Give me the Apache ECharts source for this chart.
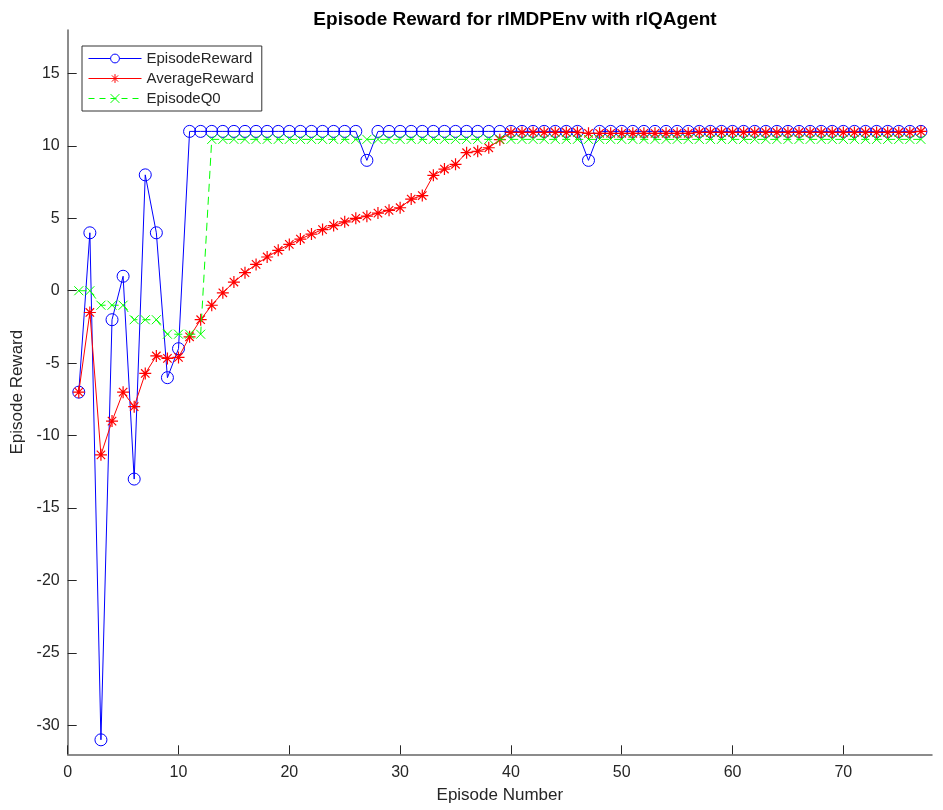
<!DOCTYPE html>
<html>
<head>
<meta charset="utf-8">
<script src="https://cdn.jsdelivr.net/npm/echarts@6/dist/echarts.min.js"></script>
<style>
html,body{margin:0;padding:0;background:#fff;}
#chart{width:943px;height:810px;}
</style>
</head>
<body>
<div id="chart"></div>
<script>
const titleText = 'Episode Reward for rlMDPEnv with rlQAgent';
const xLabel = 'Episode Number';
const yLabel = 'Episode Reward';
const seriesNames = ['EpisodeReward', 'AverageReward', 'EpisodeQ0'];
const xTicks = [0, 10, 20, 30, 40, 50, 60, 70];
const yTicks = [-30, -25, -20, -15, -10, -5, 0, 5, 10, 15];

const episodeReward = [
  -7, 4, -31, -2, 1, -13, 8, 4, -6, -4,
  11, 11, 11, 11, 11, 11, 11, 11, 11, 11, 11, 11, 11, 11, 11, 11,
  9,
  11, 11, 11, 11, 11, 11, 11, 11, 11, 11, 11, 11, 11, 11, 11, 11, 11, 11, 11,
  9,
  11, 11, 11, 11, 11, 11, 11, 11, 11, 11, 11, 11, 11, 11, 11,
  11, 11, 11, 11, 11, 11, 11, 11, 11, 11, 11, 11, 11, 11, 11
];
const averageReward = [
  -7, -1.5, -11.33, -9, -7, -8, -5.71, -4.5, -4.67, -4.6,
  -3.18, -2, -1, -0.14, 0.6, 1.25, 1.82, 2.33, 2.79, 3.2,
  3.57, 3.91, 4.22, 4.5, 4.76, 5, 5.15, 5.36, 5.55, 5.73,
  6.33, 6.57, 7.97, 8.4, 8.73, 9.53, 9.63, 9.87, 10.43, 10.93,
  10.93, 10.93, 10.93, 10.93, 10.93, 10.93,
  10.87, 10.87, 10.87, 10.87, 10.87, 10.87, 10.87, 10.87, 10.87, 10.87,
  10.93, 10.93, 10.93, 10.93, 10.93, 10.93, 10.93, 10.93, 10.93, 10.93,
  10.93, 10.93, 10.93, 10.93, 10.93, 10.93, 10.93, 10.93, 10.93, 10.93,
  11
];
const episodeQ0 = [
  0, 0, -1, -1, -1, -2, -2, -2, -3, -3, -3, -3,
  10.45, 10.45, 10.45, 10.45, 10.45, 10.45, 10.45, 10.45, 10.45, 10.45,
  10.45, 10.45, 10.45, 10.45, 10.45, 10.45, 10.45, 10.45, 10.45, 10.45,
  10.45, 10.45, 10.45, 10.45, 10.45, 10.45, 10.45, 10.45, 10.45, 10.45,
  10.45, 10.45, 10.45, 10.45, 10.45, 10.45, 10.45, 10.45, 10.45, 10.45,
  10.45, 10.45, 10.45, 10.45, 10.45, 10.45, 10.45, 10.45, 10.45, 10.45,
  10.45, 10.45, 10.45, 10.45, 10.45, 10.45, 10.45, 10.45, 10.45, 10.45,
  10.45, 10.45, 10.45, 10.45, 10.45
];

const toPairs = arr => arr.map((v, i) => [i + 1, v]);

const FONT = '"Liberation Sans", Arial, Helvetica, sans-serif';
const AXIS_COLOR = '#666666';
const TEXT_COLOR = '#262626';
const starPath = 'path://M5 0 L5 10 M0 5 L10 5 M1.5 1.5 L8.5 8.5 M1.5 8.5 L8.5 1.5';
const xPath = 'path://M0 0 L10 10 M0 10 L10 0';
const COLORS = ['#0000ff', '#ff0000', '#00ff00'];

const chart = echarts.init(document.getElementById('chart'), null, {renderer: 'canvas'});
chart.setOption({
  backgroundColor: '#ffffff',
  animation: false,
  title: {
    text: titleText,
    left: 510, top: 5, textAlign: 'center',
    textStyle: {fontFamily: FONT, fontSize: 19, fontWeight: 'bold', color: '#000'}
  },
  legend: {
    orient: 'vertical',
    left: 82, top: 46,
    padding: [5, 8, 5, 6],
    itemGap: 5,
    itemWidth: 53, itemHeight: 11,
    borderColor: '#333', borderWidth: 1,
    backgroundColor: '#fff',
    textStyle: {fontFamily: FONT, fontSize: 15, color: TEXT_COLOR},
    data: [
      {name: seriesNames[0], lineStyle: {width: 1, color: COLORS[0]},
       itemStyle: {color: '#ffffff', borderColor: COLORS[0], borderWidth: 1}},
      {name: seriesNames[1], lineStyle: {width: 1, color: COLORS[1]},
       itemStyle: {color: 'rgba(0,0,0,0)', borderColor: COLORS[1], borderWidth: 1}},
      {name: seriesNames[2], lineStyle: {width: 1, color: COLORS[2], type: [6, 5]},
       itemStyle: {color: 'rgba(0,0,0,0)', borderColor: COLORS[2], borderWidth: 1}}
    ]
  },
  grid: {left: 67.7, right: 11, top: 30, bottom: 55.7, containLabel: false},
  xAxis: {
    type: 'value', min: 0, max: 78,
    name: xLabel, nameLocation: 'middle', nameGap: 33,
    nameTextStyle: {fontFamily: FONT, fontSize: 17, color: TEXT_COLOR},
    axisLine: {show: true, onZero: false, lineStyle: {color: AXIS_COLOR, width: 1.5}},
    axisTick: {show: true, inside: true, length: 9, customValues: xTicks, lineStyle: {color: TEXT_COLOR, width: 1}},
    axisLabel: {customValues: xTicks, margin: 10, fontFamily: FONT, fontSize: 16, color: TEXT_COLOR},
    splitLine: {show: false}
  },
  yAxis: {
    type: 'value', min: -32, max: 18,
    name: yLabel, nameLocation: 'middle', nameGap: 40, nameRotate: 90,
    nameTextStyle: {fontFamily: FONT, fontSize: 17, color: TEXT_COLOR},
    axisLine: {show: true, onZero: false, lineStyle: {color: AXIS_COLOR, width: 1.5}},
    axisTick: {show: true, inside: true, length: 9, customValues: yTicks, lineStyle: {color: TEXT_COLOR, width: 1}},
    axisLabel: {customValues: yTicks, margin: 8, fontFamily: FONT, fontSize: 16, color: TEXT_COLOR},
    splitLine: {show: false}
  },
  series: [
    {
      name: seriesNames[0], type: 'line', data: toPairs(episodeReward),
      symbol: 'circle', symbolSize: 12, showAllSymbol: true,
      lineStyle: {color: COLORS[0], width: 1},
      itemStyle: {color: 'rgba(0,0,0,0)', borderColor: COLORS[0], borderWidth: 1},
      z: 2
    },
    {
      name: seriesNames[1], type: 'line', data: toPairs(averageReward),
      symbol: starPath, symbolSize: 12, showAllSymbol: true,
      lineStyle: {color: COLORS[1], width: 1},
      itemStyle: {color: 'rgba(0,0,0,0)', borderColor: COLORS[1], borderWidth: 1.2},
      z: 3
    },
    {
      name: seriesNames[2], type: 'line', data: toPairs(episodeQ0),
      symbol: xPath, symbolSize: 9, showAllSymbol: true,
      lineStyle: {color: COLORS[2], width: 1, type: [8, 5]},
      itemStyle: {color: 'rgba(0,0,0,0)', borderColor: COLORS[2], borderWidth: 1},
      z: 4
    }
  ]
});
</script>
</body>
</html>
